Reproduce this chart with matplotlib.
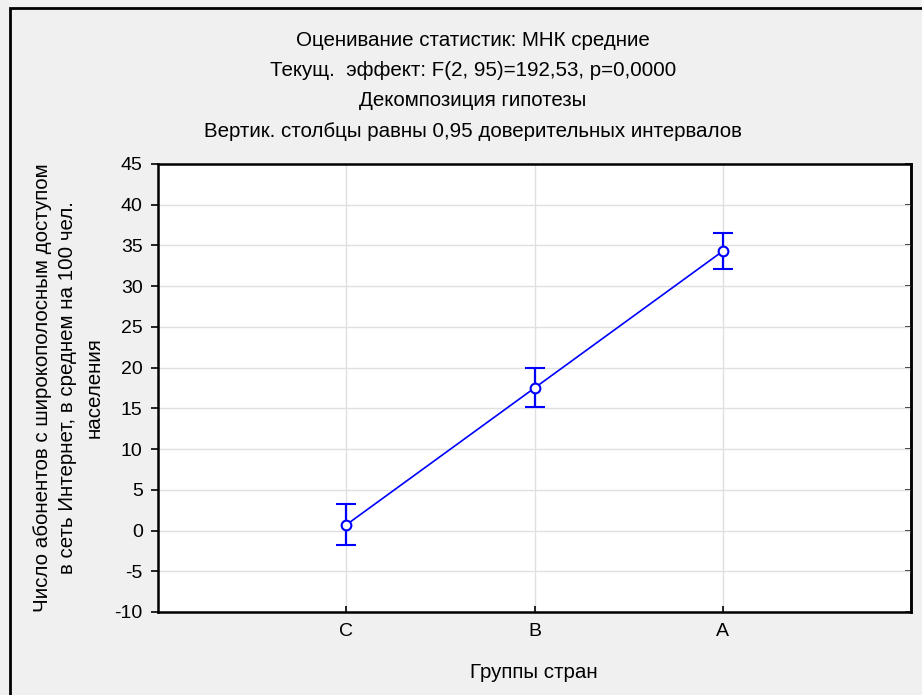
import matplotlib
matplotlib.use("Agg")
import matplotlib.pyplot as plt
from matplotlib.patches import Rectangle

groups = ["C", "B", "A"]
means = [0.7, 17.5, 34.3]
ci_low = [-1.8, 15.2, 32.1]
ci_high = [3.2, 19.9, 36.5]

title_lines = [
    "Оценивание статистик: МНК средние",
    "Текущ.  эффект: F(2, 95)=192,53, p=0,0000",
    "Декомпозиция гипотезы",
    "Вертик. столбцы равны 0,95 доверительных интервалов",
]
ylabel = ("Число абонентов с широкополосным доступом\n"
          "в сеть Интернет, в среднем на 100 чел.\n"
          "населения")
xlabel = "Группы стран"

plt.rcParams["font.family"] = ["Liberation Sans", "DejaVu Sans"]
plt.rcParams["axes.unicode_minus"] = False
fs = 14.8
tfs = 14

W, H = 922, 695
fig = plt.figure(figsize=(W / 100, H / 100), dpi=100, facecolor="#f0f0f0")

# outer frame (left and top edges visible)
fig.patches.append(Rectangle((10 / W, -0.05), 1.1, 1 - 8 / H + 0.05,
                             transform=fig.transFigure, fill=False,
                             edgecolor="black", linewidth=2, clip_on=False))

ax = fig.add_axes([158 / W, 1 - 612 / H, (911 - 158) / W, (612 - 164) / H])
ax.set_facecolor("white")

x = list(range(len(groups)))
yerr = [[m - lo for m, lo in zip(means, ci_low)],
        [hi - m for m, hi in zip(means, ci_high)]]
ax.errorbar(x, means, yerr=yerr, color="#0000ff", linewidth=1.2,
            elinewidth=1.6, capsize=7, capthick=1.6, marker="o",
            markersize=7, markerfacecolor="white", markeredgecolor="#0000ff",
            markeredgewidth=1.5, zorder=3)

ax.set_xlim(-1, 3)
ax.set_ylim(-10, 45)
ax.set_yticks(range(-10, 46, 5))
ax.set_xticks(x)
ax.set_xticklabels(groups)
ax.grid(True, color="#e0e0e0", linewidth=1)
ax.set_axisbelow(True)
for s in ax.spines.values():
    s.set_linewidth(1.8)
    s.set_color("black")
ax.tick_params(axis="y", direction="out", length=5, width=1.2,
               labelsize=tfs, pad=6)
ax.tick_params(axis="x", direction="in", length=4, width=1.2,
               labelsize=tfs, pad=8)

# small inward ticks on the right side
sec = ax.secondary_yaxis("right")
sec.set_yticks(range(-10, 46, 5))
sec.tick_params(direction="in", length=4, width=1.2, labelright=False)
sec.spines["right"].set_linewidth(1.8)

for i, t in enumerate(title_lines):
    fig.text(473 / W, 1 - (40 + i * 30.5) / H, t, ha="center", va="center",
             fontsize=fs)

fig.text(534 / W, 1 - 672 / H, xlabel, ha="center", va="center", fontsize=fs)
fig.text(68 / W, 1 - 388 / H, ylabel, ha="center", va="center", rotation=90,
         fontsize=fs, linespacing=1.45, multialignment="center")

fig.savefig("out.png", dpi=100, facecolor=fig.get_facecolor())
